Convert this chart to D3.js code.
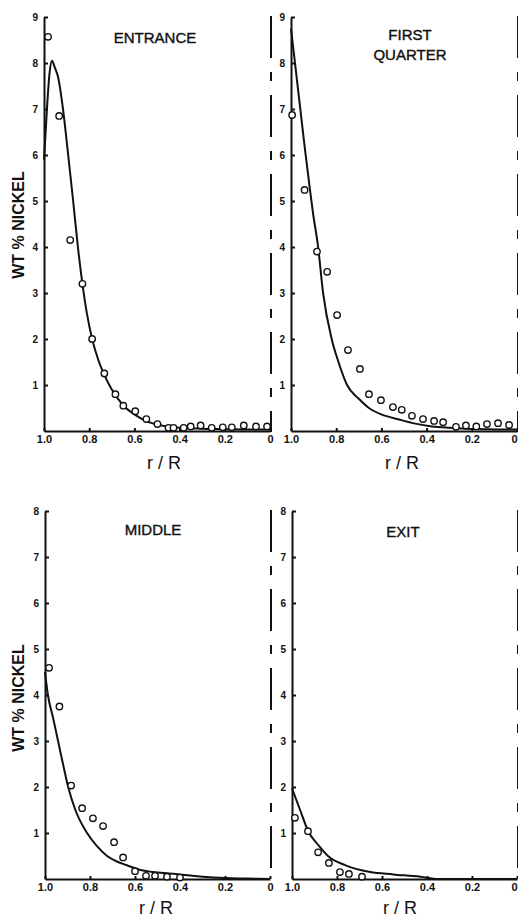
<!DOCTYPE html>
<html>
<head>
<meta charset="utf-8">
<script src="https://cdn.jsdelivr.net/npm/d3@7.9.0/dist/d3.min.js"></script>
<style>
  html, body { margin: 0; padding: 0; background: #fff; }
  svg { display: block; font-family: 'Liberation Sans', Arial, sans-serif; }
  .tick text { font-weight: bold; fill: #111; }
  .domain, .tick line { stroke: #111; stroke-width: 2; }
</style>
</head>
<body>
<svg id="chart" width="518" height="918"></svg>
<script>
// radial position r/R and wt % nickel
const rTicks = [1.0, 0.8, 0.6, 0.4, 0.2, 0];
const rTickLabels = ['1.0', '0.8', '0.6', '0.4', '0.2', '0'];
const topYTicks = [1, 2, 3, 4, 5, 6, 7, 8, 9];
const bottomYTicks = [1, 2, 3, 4, 5, 6, 7, 8];

const entranceCurve = [[1.0, 5.9], [0.987, 7.0], [0.975, 7.8], [0.965, 8.05], [0.952, 7.9], [0.938, 7.7],
  [0.916, 7.0], [0.893, 6.0], [0.871, 5.0], [0.85, 4.0], [0.83, 3.2], [0.81, 2.55], [0.787, 2.0],
  [0.76, 1.55], [0.733, 1.22], [0.7, 0.9], [0.65, 0.56], [0.6, 0.36], [0.55, 0.22], [0.5, 0.14],
  [0.45, 0.09], [0.4, 0.07], [0.3, 0.05], [0.2, 0.04], [0.1, 0.03], [0, 0.03]];
const entrancePoints = [[0.982, 8.57], [0.933, 6.85], [0.884, 4.15], [0.83, 3.2], [0.787, 2.0],
  [0.733, 1.25], [0.684, 0.8], [0.649, 0.55], [0.596, 0.43], [0.547, 0.26], [0.498, 0.15],
  [0.449, 0.07], [0.427, 0.07], [0.382, 0.07], [0.351, 0.1], [0.307, 0.12], [0.258, 0.07],
  [0.209, 0.08], [0.169, 0.08], [0.116, 0.12], [0.062, 0.1], [0.013, 0.1]];

const quarterCurve = [[1.0, 8.75], [0.98, 7.9], [0.96, 7.05], [0.94, 6.2], [0.92, 5.4], [0.903, 4.75],
  [0.88, 4.0], [0.858, 3.0], [0.82, 2.0], [0.79, 1.5], [0.752, 1.0], [0.7, 0.7], [0.655, 0.5],
  [0.6, 0.36], [0.522, 0.25], [0.45, 0.16], [0.376, 0.1], [0.3, 0.07], [0.226, 0.05], [0.15, 0.04],
  [0.05, 0.03], [0, 0.03]];
const quarterPoints = [[0.995, 6.87], [0.94, 5.24], [0.885, 3.9], [0.84, 3.46], [0.796, 2.52],
  [0.748, 1.76], [0.695, 1.35], [0.655, 0.8], [0.602, 0.67], [0.549, 0.52], [0.51, 0.46],
  [0.465, 0.33], [0.416, 0.26], [0.367, 0.22], [0.327, 0.19], [0.27, 0.09], [0.226, 0.12],
  [0.18, 0.1], [0.133, 0.15], [0.084, 0.17], [0.035, 0.13]];

const middleCurve = [[1.0, 4.5], [0.987, 4.0], [0.964, 3.5], [0.942, 3.0], [0.92, 2.5], [0.897, 2.0],
  [0.865, 1.5], [0.813, 1.0], [0.77, 0.72], [0.724, 0.5], [0.68, 0.38], [0.636, 0.3], [0.58, 0.2],
  [0.52, 0.15], [0.45, 0.12], [0.4, 0.1], [0.3, 0.05], [0.2, 0.02], [0.1, 0.01], [0, 0]];
const middlePoints = [[0.982, 4.59], [0.936, 3.75], [0.884, 2.03], [0.835, 1.54], [0.787, 1.32],
  [0.742, 1.15], [0.693, 0.8], [0.653, 0.47], [0.6, 0.17], [0.551, 0.07], [0.511, 0.07],
  [0.458, 0.05], [0.4, 0.03]];

const exitCurve = [[1.0, 1.97], [0.964, 1.5], [0.929, 1.05], [0.88, 0.72], [0.84, 0.5], [0.764, 0.3],
  [0.653, 0.15], [0.55, 0.1], [0.43, 0.05], [0.35, 0], [0, 0]];
const exitPoints = [[0.987, 1.33], [0.929, 1.04], [0.884, 0.58], [0.836, 0.35], [0.787, 0.15],
  [0.747, 0.11], [0.689, 0.05]];

const panels = [
  { title: ['ENTRANCE'], curve: entranceCurve, points: entrancePoints, yMax: 9, yTicks: topYTicks,
    left: 44, right: 270, bottom: 431, titleX: 155, titleY: 43, xLabelX: 164, xLabelY: 469, yLabelY: 225 },
  { title: ['FIRST', 'QUARTER'], curve: quarterCurve, points: quarterPoints, yMax: 9, yTicks: topYTicks,
    left: 291, right: 517, bottom: 431, titleX: 410, titleY: 40, xLabelX: 402, xLabelY: 469, yLabelY: null },
  { title: ['MIDDLE'], curve: middleCurve, points: middlePoints, yMax: 8, yTicks: bottomYTicks,
    left: 45, right: 270, bottom: 879, titleX: 153, titleY: 535, xLabelX: 156, xLabelY: 914, yLabelY: 698 },
  { title: ['EXIT'], curve: exitCurve, points: exitPoints, yMax: 8, yTicks: bottomYTicks,
    left: 292, right: 517, bottom: 879, titleX: 403, titleY: 537, xLabelX: 400, xLabelY: 914, yLabelY: null }
];

const svg = d3.select('#chart');
const unit = 46; // px per wt %

panels.forEach((p) => {
  const x = d3.scaleLinear().domain([1, 0]).range([p.left, p.right]);
  const y = d3.scaleLinear().domain([0, p.yMax]).range([p.bottom, p.bottom - p.yMax * unit]);

  // centreline (r = 0), dash-dot
  svg.append('line')
    .attr('x1', x(0) + 1).attr('x2', x(0) + 1)
    .attr('y1', y(p.yMax) - 1).attr('y2', p.bottom + 1)
    .attr('stroke', '#111').attr('stroke-width', 2)
    .attr('stroke-dasharray', '42,14,9,14');

  const g = svg.append('g');

  g.append('g')
    .attr('transform', `translate(${p.left},0)`)
    .call(d3.axisLeft(y).tickValues(p.yTicks).tickSizeInner(-4).tickSizeOuter(0).tickPadding(6))
    .call((a) => a.selectAll('text').attr('font-size', 10));

  g.append('g')
    .attr('transform', `translate(0,${p.bottom})`)
    .call(d3.axisBottom(x).tickValues(rTicks).tickFormat((d, i) => rTickLabels[i])
      .tickSizeInner(-3).tickSizeOuter(0).tickPadding(4))
    .call((a) => a.selectAll('text').attr('font-size', 11))
    .call((a) => a.selectAll('text').filter((d) => d === 0 && x(0) > 500)
      .attr('text-anchor', 'end').attr('dx', 0));

  const line = d3.line()
    .x((d) => x(d[0]))
    .y((d) => y(d[1]))
    .curve(d3.curveMonotoneX);

  g.append('path')
    .datum(p.curve)
    .attr('d', line)
    .attr('fill', 'none')
    .attr('stroke', '#111')
    .attr('stroke-width', 2);

  g.selectAll('circle')
    .data(p.points)
    .join('circle')
    .attr('cx', (d) => x(d[0]))
    .attr('cy', (d) => y(d[1]))
    .attr('r', 3.2)
    .attr('fill', '#fff')
    .attr('stroke', '#111')
    .attr('stroke-width', 1.4);

  const title = g.append('text')
    .attr('x', p.titleX)
    .attr('y', p.titleY)
    .attr('text-anchor', 'middle')
    .attr('font-size', 15)
    .attr('fill', '#111')
    .attr('stroke', '#111')
    .attr('stroke-width', 0.4);
  p.title.forEach((t, i) => {
    title.append('tspan').attr('x', p.titleX).attr('dy', i === 0 ? 0 : 20).text(t);
  });

  g.append('text')
    .attr('x', p.xLabelX)
    .attr('y', p.xLabelY)
    .attr('text-anchor', 'middle')
    .attr('font-size', 18)
    .attr('fill', '#111')
    .text('r / R');

  if (p.yLabelY !== null) {
    g.append('text')
      .attr('transform', `translate(24,${p.yLabelY}) rotate(-90)`)
      .attr('text-anchor', 'middle')
      .attr('font-size', 16)
      .attr('font-weight', 'bold')
      .attr('fill', '#111')
      .text('WT % NICKEL');
  }
});
</script>
</body>
</html>
